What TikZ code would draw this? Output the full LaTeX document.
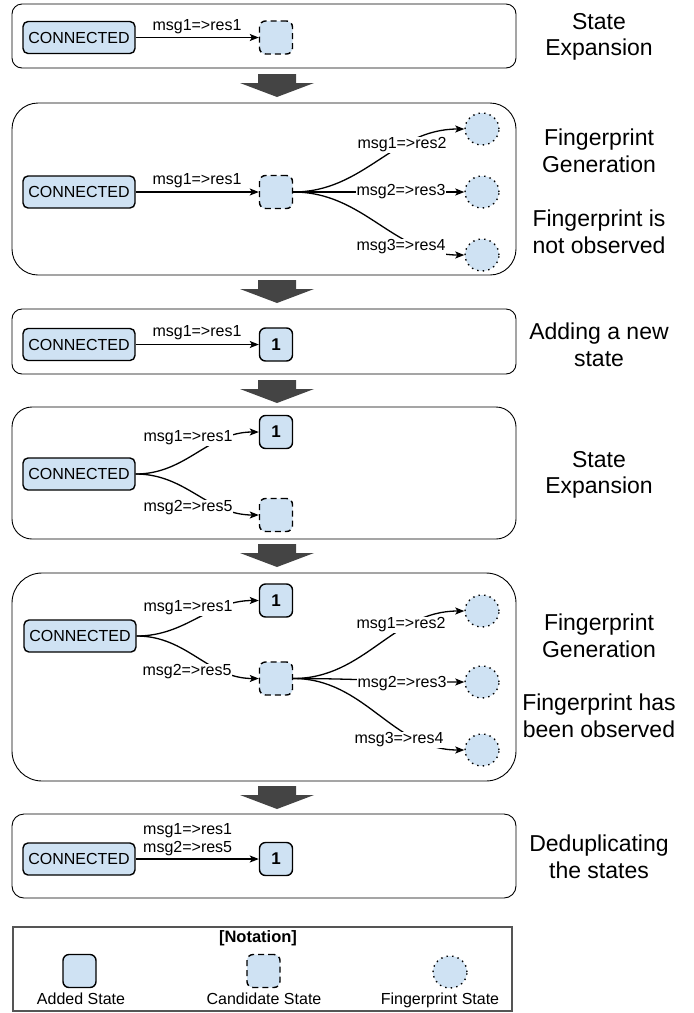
\documentclass[tikz,border=0pt]{standalone}
\usepackage{fontspec}
\setmainfont{Liberation Sans}
\usetikzlibrary{arrows.meta,shapes.geometric}

\definecolor{statefill}{HTML}{CFE2F3}
\definecolor{arrowgray}{HTML}{444444}
\definecolor{framegray}{HTML}{555555}

\tikzset{
  panel/.style={draw=black, line width=0.9pt},
  added/.style={draw=black, fill=statefill, line width=1.4pt, rounded corners=6pt,
    minimum width=33pt, minimum height=33pt, inner sep=0pt,
    font=\fontsize{17}{20}\selectfont\bfseries},
  conn/.style={added, rounded corners=5pt, minimum width=112pt, minimum height=32pt,
    font=\fontsize{16}{19}\selectfont},
  candidate/.style={added, dash pattern=on 6pt off 4pt},
  fprint/.style={ellipse, draw=black, fill=statefill, line width=1.4pt,
    dash pattern=on 1.4pt off 4.2pt, minimum width=34pt, minimum height=32pt, inner sep=0pt},
  lbl/.style={fill=white, inner sep=1pt, font=\fontsize{16}{18}\selectfont},
  side/.style={align=center, font=\fontsize{23}{26.5}\selectfont},
  link/.style={line width=1.3pt, -{Stealth[length=9pt,width=7pt,inset=2pt]}},
  flow/.pic={\fill[arrowgray] (-19,0) -- (19,0) -- (19,9) -- (37,9) -- (0,23)
    -- (-37,9) -- (-19,9) -- cycle;},
}

\begin{document}
\begin{tikzpicture}[x=1pt,y=-1pt]
\useasboundingbox (0,0) rectangle (694,1013);

% ---------- step 1: state expansion ----------
\draw[panel, rounded corners=10pt] (12,4) rectangle (516,68);
\node[conn] (c1) at (79,37.5) {CONNECTED};
\node[candidate] (k1) at (276,37.5) {};
\draw[link] (c1) -- (k1);
\node[lbl, fill=none] (l1) at (197,27) {msg1=>res1};
\node[side] (t1) at (599,37) {State\\Expansion};
\pic at (277,74) {flow};

% ---------- step 2: fingerprint generation ----------
\draw[panel, rounded corners=26pt] (12,103) rectangle (516,275);
\node[conn] (c2) at (79,192) {CONNECTED};
\node[candidate] (k2) at (276,192) {};
\node[fprint] (f21) at (482,129) {};
\node[fprint] (f22) at (482,192) {};
\node[fprint] (f23) at (482,255) {};
\draw[link] (c2) -- (k2);
\draw[link] (k2.east) to[out=0,in=180] (f21.west);
\draw[link] (k2.east) -- (f22.west);
\draw[link] (k2.east) to[out=0,in=180] (f23.west);
\node[lbl, fill=none] (l21) at (197,181) {msg1=>res1};
\node[lbl] (l22) at (402,145) {msg1=>res2};
\node[lbl] (l23) at (401,192) {msg2=>res3};
\node[lbl] (l24) at (401,247) {msg3=>res4};
\node[side] (t21) at (599,151) {Fingerprint\\Generation};
\node[side] (t22) at (599,232) {Fingerprint is\\not observed};
\pic at (277,280) {flow};

% ---------- step 3: adding a new state ----------
\draw[panel, rounded corners=10pt] (12,309) rectangle (516,374);
\node[conn] (c3) at (79,344.5) {CONNECTED};
\node[added] (b3) at (276,344.5) {1};
\draw[link] (c3) -- (b3);
\node[lbl, fill=none] (l3) at (197,333) {msg1=>res1};
\node[side] (t3) at (599,345) {Adding a new\\state};
\pic at (277,380) {flow};

% ---------- step 4: state expansion ----------
\draw[panel, rounded corners=20pt] (12,407) rectangle (516,539);
\node[conn] (c4) at (79,474) {CONNECTED};
\node[added] (b4) at (276,432) {1};
\node[candidate] (k4) at (276,515) {};
\draw[link] (c4.east) to[out=0,in=180] (b4.west);
\draw[link] (c4.east) to[out=0,in=180] (k4.west);
\node[lbl] (l41) at (188,438) {msg1=>res1};
\node[lbl] (l42) at (188,508) {msg2=>res5};
\node[side] (t4) at (599,475) {State\\Expansion};
\pic at (277,544) {flow};

% ---------- step 5: fingerprint generation ----------
\draw[panel, rounded corners=30pt] (12,573) rectangle (516,781);
\node[conn] (c5) at (80,636) {CONNECTED};
\node[added] (b5) at (276,600.5) {1};
\node[candidate] (k5) at (276,678.5) {};
\node[fprint] (f51) at (482,611) {};
\node[fprint] (f52) at (482,682) {};
\node[fprint] (f53) at (482,750) {};
\draw[link] (c5.east) to[out=0,in=180] (b5.west);
\draw[link] (c5.east) to[out=0,in=180] (k5.west);
\draw[link] (k5.east) to[out=0,in=180] (f51.west);
\draw[link] (k5.east) to[out=0,in=180] (f52.west);
\draw[link] (k5.east) to[out=0,in=180] (f53.west);
\node[lbl] (l51) at (188,608) {msg1=>res1};
\node[lbl] (l52) at (187,672) {msg2=>res5};
\node[lbl] (l53) at (401,625) {msg1=>res2};
\node[lbl] (l54) at (402,684) {msg2=>res3};
\node[lbl] (l55) at (399,740) {msg3=>res4};
\node[side] (t51) at (599,636) {Fingerprint\\Generation};
\node[side] (t52) at (599,716) {Fingerprint has\\been observed};
\pic at (277,786) {flow};

% ---------- step 6: deduplicating ----------
\draw[panel, rounded corners=12pt] (12,814) rectangle (516,898);
\node[conn] (c6) at (79,859) {CONNECTED};
\node[added] (b6) at (276,859) {1};
\draw[link] (c6) -- (b6);
\node[lbl, fill=none, align=left, anchor=west] (l6) at (142,840) {msg1=>res1\\msg2=>res5};
\node[side] (t6) at (599,857) {Deduplicating\\the states};

% ---------- notation ----------
\draw[draw=framegray, line width=1.2pt] (13,927) rectangle (512,1011);
\node[font=\fontsize{16.5}{19}\selectfont\bfseries] (nt) at (258,938) {[Notation]};
\node[added] (na) at (79.5,971) {};
\node[candidate] (nk) at (263.5,971) {};
\node[fprint] (nf) at (450,972) {};
\node[lbl, fill=none] (la) at (81,999) {Added State};
\node[lbl, fill=none] (lk) at (264,999) {Candidate State};
\node[lbl, fill=none] (lf) at (440,1000) {Fingerprint State};
\end{tikzpicture}
\end{document}
